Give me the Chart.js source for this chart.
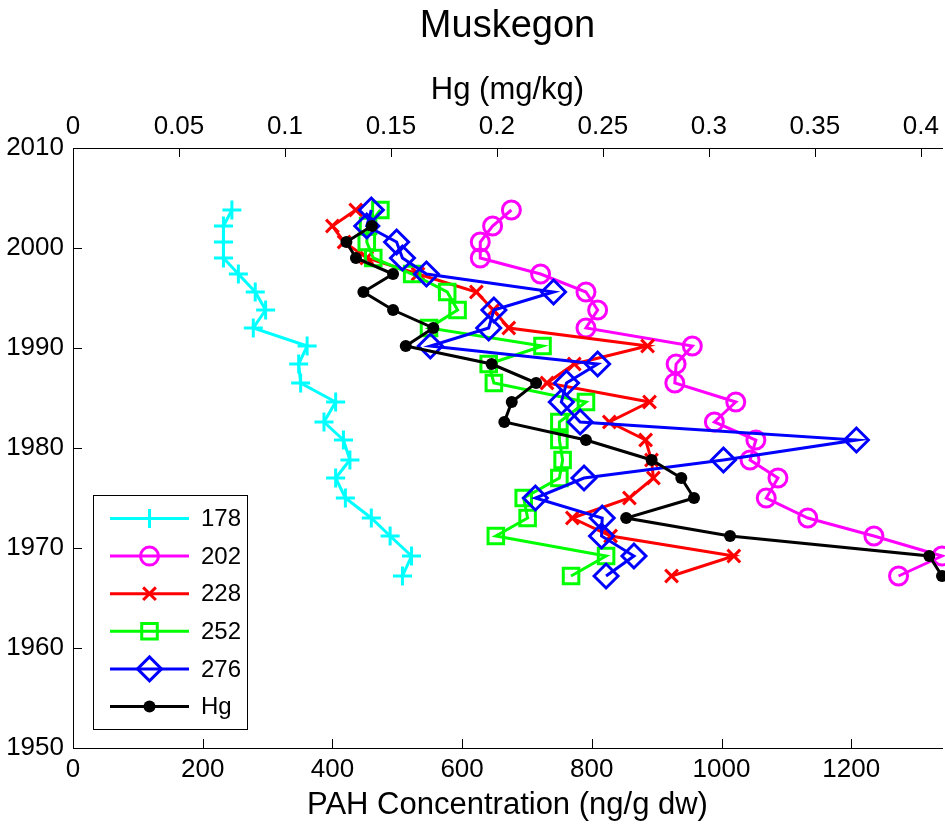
<!DOCTYPE html>
<html>
<head>
<meta charset="utf-8">
<script src="https://cdn.jsdelivr.net/npm/chart.js@4.4.1/dist/chart.umd.min.js"></script>
<style>
  html, body { margin: 0; padding: 0; background: #ffffff; }
  #wrap { width: 945px; height: 834px; position: relative; }
</style>
</head>
<body>
<div id="wrap"><canvas id="chart" width="945" height="834"></canvas></div>
<script>
// Sediment core dates (year) shared by the PAH series
const years = [2003.8, 2002.2, 2000.6, 1999.0, 1997.4, 1995.6, 1993.8, 1992.0, 1990.2, 1988.4,
               1986.5, 1984.6, 1982.6, 1980.8, 1978.8, 1977.0, 1975.0, 1973.0, 1971.2, 1969.2, 1967.2];
// Core dates with a mercury measurement
const hgYears = [2002.2, 2000.6, 1999.0, 1997.4, 1995.6, 1993.8, 1992.0, 1990.2, 1988.4,
                 1986.5, 1984.6, 1982.6, 1980.8, 1978.8, 1977.0, 1975.0, 1973.0, 1971.2, 1969.2, 1967.2];

// PAH concentrations (ng/g dw) by molecular weight group
const pah178 = [245, 232, 232, 232, 255, 281, 297, 278, 361, 348, 351, 405, 387, 417, 427, 405, 420, 460, 489, 522, 508];
const pah202 = [676, 647, 628, 628, 721, 791, 809, 791, 955, 930, 928, 1022, 989, 1053, 1044, 1087, 1069, 1133, 1235, 1340, 1273];
const pah228 = [436, 400, 418, 453, 532, 622, 648, 672, 886, 773, 731, 889, 827, 883, 892, 895, 858, 770, 829, 1019, 923];
const pah252 = [474, 455, 453, 463, 523, 577, 593, 549, 724, 641, 649, 791, 750, 750, 755, 750, 695, 701, 652, 822, 768];
const pah276 = [460, 453, 499, 508, 545, 741, 649, 641, 551, 809, 761, 753, 782, 1208, 1003, 788, 713, 816, 815, 865, 822];
// Mercury (mg/kg)
const hg = [0.141, 0.129, 0.1335, 0.151, 0.137, 0.151, 0.170, 0.157, 0.1975, 0.2185,
            0.207, 0.2035, 0.242, 0.273, 0.287, 0.293, 0.261, 0.310, 0.404, 0.41];

// Axis ticks
const pahTicks = [0, 200, 400, 600, 800, 1000, 1200];
const hgTicks = [0, 0.05, 0.1, 0.15, 0.2, 0.25, 0.3, 0.35, 0.4];
const yearTicks = [1950, 1960, 1970, 1980, 1990, 2000, 2010];

const seriesNames = ['178', '202', '228', '252', '276', 'Hg'];

const FONT = '"Liberation Sans", Arial, Helvetica, sans-serif';

function pts(xs, ys) { return xs.map((v, i) => ({ x: v, y: ys[i] })); }

const styles = [
  { color: '#00ffff', pointStyle: 'cross',    radius: 9.5, fill: false },
  { color: '#ff00ff', pointStyle: 'circle',   radius: 9,   fill: false },
  { color: '#ff0000', pointStyle: 'crossRot', radius: 9,   fill: false },
  { color: '#00ff00', pointStyle: 'rect',     radius: 11,  fill: false },
  { color: '#0000ff', pointStyle: 'rectRot',  radius: 12,  fill: false },
  { color: '#000000', pointStyle: 'circle',   radius: 6,   fill: true  }
];

const seriesData = [pts(pah178, years), pts(pah202, years), pts(pah228, years),
                    pts(pah252, years), pts(pah276, years), pts(hg, hgYears)];

const datasets = seriesData.map((d, i) => ({
  label: seriesNames[i],
  data: d,
  xAxisID: i === 5 ? 'xHg' : 'x',
  yAxisID: 'y',
  showLine: true,
  borderColor: styles[i].color,
  backgroundColor: styles[i].fill ? styles[i].color : 'rgba(0,0,0,0)',
  borderWidth: 3,
  pointStyle: styles[i].pointStyle,
  pointRadius: styles[i].radius,
  pointBorderWidth: styles[i].fill ? 0 : 3,
  pointBorderColor: styles[i].color,
  pointBackgroundColor: styles[i].fill ? styles[i].color : 'rgba(0,0,0,0)',
  tension: 0,
  clip: false,
  order: 6 - i
}));

// Marker drawing for the legend box
function drawMarker(ctx, style, r, x, y, color, fill) {
  ctx.save();
  ctx.strokeStyle = color;
  ctx.fillStyle = color;
  ctx.lineWidth = 3;
  ctx.beginPath();
  if (style === 'cross') {
    ctx.moveTo(x - r, y); ctx.lineTo(x + r, y);
    ctx.moveTo(x, y - r); ctx.lineTo(x, y + r);
    ctx.stroke();
  } else if (style === 'crossRot') {
    const o = r * Math.SQRT1_2;
    ctx.moveTo(x - o, y - o); ctx.lineTo(x + o, y + o);
    ctx.moveTo(x - o, y + o); ctx.lineTo(x + o, y - o);
    ctx.stroke();
  } else if (style === 'rect') {
    const s = r * Math.SQRT1_2;
    ctx.rect(x - s, y - s, 2 * s, 2 * s);
    ctx.stroke();
  } else if (style === 'rectRot') {
    ctx.moveTo(x - r, y); ctx.lineTo(x, y - r); ctx.lineTo(x + r, y); ctx.lineTo(x, y + r);
    ctx.closePath();
    ctx.stroke();
  } else {
    ctx.arc(x, y, r, 0, Math.PI * 2);
    if (fill) ctx.fill(); else ctx.stroke();
  }
  ctx.restore();
}

// Inward tick marks, title and legend box
const decorations = {
  id: 'decorations',
  afterDraw(chart) {
    const ctx = chart.ctx;
    const { x, xHg, y } = chart.scales;
    const area = chart.chartArea;
    const TL = 9;
    ctx.save();
    ctx.strokeStyle = '#000';
    ctx.lineWidth = 1;
    ctx.beginPath();
    pahTicks.forEach(v => {
      const px = Math.round(x.getPixelForValue(v)) + 0.5;
      ctx.moveTo(px, area.bottom); ctx.lineTo(px, area.bottom - TL);
    });
    hgTicks.forEach(v => {
      const px = Math.round(xHg.getPixelForValue(v)) + 0.5;
      ctx.moveTo(px, area.top); ctx.lineTo(px, area.top + TL);
    });
    yearTicks.forEach(v => {
      const py = Math.round(y.getPixelForValue(v)) + 0.5;
      ctx.moveTo(area.left, py); ctx.lineTo(area.left + TL, py);
    });
    ctx.stroke();

    // Title
    ctx.fillStyle = '#000';
    ctx.font = '38px ' + FONT;
    ctx.textAlign = 'center';
    ctx.textBaseline = 'middle';
    ctx.fillText('Muskegon', (area.left + area.right) / 2, 27);

    // Legend
    const bx = 93, by = 495, bw = 154, bh = 234;
    ctx.fillStyle = '#fff';
    ctx.fillRect(bx, by, bw, bh);
    ctx.strokeStyle = '#000';
    ctx.lineWidth = 1;
    ctx.strokeRect(bx + 0.5, by + 0.5, bw, bh);
    const rowY0 = 518.5, rowStep = 37.6;
    ctx.font = '24px ' + FONT;
    ctx.textAlign = 'left';
    ctx.textBaseline = 'middle';
    seriesNames.forEach((name, i) => {
      const ry = rowY0 + i * rowStep;
      const st = styles[i];
      ctx.strokeStyle = st.color;
      ctx.lineWidth = 3;
      ctx.beginPath();
      ctx.moveTo(110, ry); ctx.lineTo(189, ry);
      ctx.stroke();
      drawMarker(ctx, st.pointStyle, st.radius, 149.5, ry, st.color, st.fill);
      ctx.fillStyle = '#000';
      ctx.fillText(name, 201, ry + 1);
    });
    ctx.restore();
  }
};

const tickFont = { family: FONT, size: 26 };
const titleFont = { family: FONT, size: 31 };

// Keep the plot frame fixed: no extra edge padding for the end labels
function fixHorizontal(h) {
  return s => { s.height = h; s.paddingLeft = 0; s.paddingRight = 0; };
}

new Chart(document.getElementById('chart'), {
  type: 'scatter',
  data: { datasets },
  options: {
    responsive: false,
    animation: false,
    devicePixelRatio: 1,
    events: [],
    layout: { autoPadding: false, padding: { left: 0, right: 3, top: 0, bottom: 0 } },
    plugins: { legend: { display: false }, tooltip: { enabled: false }, title: { display: false } },
    scales: {
      x: {
        type: 'linear', position: 'bottom', min: 0, max: 1340,
        afterBuildTicks: s => { s.ticks = pahTicks.map(v => ({ value: v })); },
        ticks: { font: tickFont, color: '#000', padding: 6, maxRotation: 0, callback: v => String(v) },
        grid: { display: false, drawTicks: false },
        border: { display: true, color: '#000', width: 1 },
        title: { display: true, text: 'PAH Concentration (ng/g dw)', font: titleFont, color: '#000', padding: { top: 0, bottom: 10 } },
        afterFit: fixHorizontal(86)
      },
      xHg: {
        type: 'linear', position: 'top', min: 0, max: 0.41,
        afterBuildTicks: s => { s.ticks = hgTicks.map(v => ({ value: v })); },
        ticks: { font: tickFont, color: '#000', padding: 6, maxRotation: 0, callback: v => String(v) },
        grid: { display: false, drawTicks: false },
        border: { display: true, color: '#000', width: 1 },
        title: { display: true, text: 'Hg (mg/kg)', font: titleFont, color: '#000', padding: { top: 72, bottom: 0 } },
        afterFit: fixHorizontal(148)
      },
      y: {
        type: 'linear', position: 'left', min: 1950, max: 2010,
        afterBuildTicks: s => { s.ticks = yearTicks.map(v => ({ value: v })); },
        ticks: { font: tickFont, color: '#000', padding: 9, callback: v => String(v) },
        grid: { display: false, drawTicks: false },
        border: { display: true, color: '#000', width: 1 },
        afterFit: s => { s.width = 73; s.paddingTop = 0; s.paddingBottom = 0; }
      }
    }
  },
  plugins: [decorations]
});
</script>
</body>
</html>
